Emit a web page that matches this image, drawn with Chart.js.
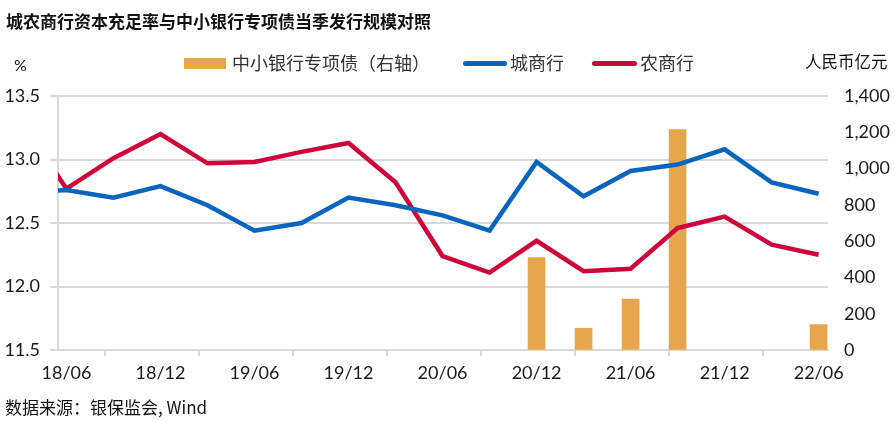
<!DOCTYPE html>
<html>
<head>
<meta charset="utf-8">
<script src="https://cdn.jsdelivr.net/npm/chart.js@4.4.1/dist/chart.umd.min.js"></script>
<style>
  body { margin: 0; background: #fff; }
  #wrap { position: relative; width: 895px; height: 422px; overflow: hidden; font-family: "Noto Sans CJK SC", sans-serif; }
  #chart { position: absolute; left: 0; top: 0; }
  .txt { position: absolute; white-space: nowrap; line-height: 1; }
  #title { left: 6px; top: 12px; font-size: 17px; font-weight: bold; color: #111; }
  .leg { top: 53px; font-size: 18px; color: #333; }
  .swatch { position: absolute; }
  #unitL { left: 14px; top: 57px; font-size: 16px; font-family: Lato, sans-serif; color: #111; }
  #unitR { left: 805px; top: 53px; font-size: 16.5px; color: #111; }
  #source { left: 5px; top: 398px; font-size: 17px; color: #111; }
</style>
</head>
<body>
<div id="wrap">
  <canvas id="chart" width="895" height="422"></canvas>
  <div class="txt" id="title">城农商行资本充足率与中小银行专项债当季发行规模对照</div>
  <div class="txt" id="unitL">%</div>
  <div class="swatch" style="left:184px;top:58px;width:42px;height:11px;background:#e5a64e"></div>
  <div class="txt leg" style="left:232px">中小银行专项债（右轴）</div>
  <div class="swatch" style="left:463px;top:61px;width:44px;height:5px;border-radius:3px;background:#0864bd"></div>
  <div class="txt leg" style="left:510px">城商行</div>
  <div class="swatch" style="left:592px;top:61px;width:45px;height:5px;border-radius:3px;background:#d0043c"></div>
  <div class="txt leg" style="left:640px">农商行</div>
  <div class="txt" id="unitR">人民币亿元</div>
  <div class="txt" id="source">数据来源：银保监会, Wind</div>
</div>
<script>
// quarters from 18/03 (only partly visible at the left edge) to 22/06
const quarters = ['18/03', '18/06', '18/09', '18/12', '19/03', '19/06', '19/09', '19/12', '20/03',
  '20/06', '20/09', '20/12', '21/03', '21/06', '21/09', '21/12', '22/03', '22/06'];
const cityBank = [12.74, 12.76, 12.70, 12.79, 12.64, 12.44, 12.50, 12.70, 12.64,
  12.56, 12.44, 12.98, 12.71, 12.91, 12.96, 13.08, 12.82, 12.73];
const ruralBank = [13.32, 12.77, 13.01, 13.20, 12.97, 12.98, 13.06, 13.13, 12.82,
  12.24, 12.11, 12.36, 12.12, 12.14, 12.46, 12.55, 12.33, 12.25];
const specialBonds = [null, null, null, null, null, null, null, null, null,
  null, null, 510, 120, 280, 1215, null, null, 140];
const xTickLabels = ['18/06', '18/12', '19/06', '19/12', '20/06', '20/12', '21/06', '21/12', '22/06'];

// data sit a little right of the period ticks (quarter-end vs. period start)
const quarterOffset = 0.18;
const toPoints = arr => arr.map((v, i) => ({ x: i - 1 + quarterOffset, y: v }));

const gridColor = '#d9d9d9';
const tickFont = { family: 'Lato, sans-serif', size: 18 };

new Chart(document.getElementById('chart'), {
  type: 'line',
  data: {
    datasets: [
      {
        type: 'bar',
        label: '中小银行专项债（右轴）',
        data: toPoints(specialBonds),
        yAxisID: 'y1',
        backgroundColor: '#e5a64e',
        barThickness: 17,
        order: 2
      },
      {
        label: '城商行',
        data: toPoints(cityBank),
        yAxisID: 'y',
        borderColor: '#0864bd',
        borderWidth: 4.5,
        pointRadius: 0,
        tension: 0,
        clip: 0,
        order: 1
      },
      {
        label: '农商行',
        data: toPoints(ruralBank),
        yAxisID: 'y',
        borderColor: '#d0043c',
        borderWidth: 4.5,
        pointRadius: 0,
        tension: 0,
        clip: 0,
        order: 1
      }
    ]
  },
  options: {
    responsive: false,
    animation: false,
    layout: { padding: { top: 96, left: 0, right: 0, bottom: 0 } },
    plugins: { legend: { display: false }, tooltip: { enabled: false } },
    scales: {
      x: {
        type: 'linear',
        min: 0,
        max: 16.38,
        offset: false,
        afterFit: s => { s.height = 72; },
        grid: { drawOnChartArea: false, drawTicks: true, tickLength: 6, color: gridColor, lineWidth: 2 },
        border: { color: gridColor, width: 2 },
        ticks: {
          stepSize: 2,
          includeBounds: false,
          autoSkip: false,
          maxRotation: 0,
          padding: 6,
          labelOffset: 8.5,
          color: '#1a1a1a',
          font: tickFont,
          callback: v => xTickLabels[v / 2] || ''
        }
      },
      y: {
        position: 'left',
        min: 11.5,
        max: 13.5,
        afterFit: s => { s.width = 58; },
        grid: { color: gridColor, lineWidth: 2, tickLength: 8 },
        border: { color: gridColor, width: 2 },
        ticks: { stepSize: 0.5, padding: 10, color: '#1a1a1a', font: tickFont, callback: v => v.toFixed(1) }
      },
      y1: {
        position: 'right',
        min: 0,
        max: 1400,
        afterFit: s => { s.width = 67; },
        grid: { drawOnChartArea: false, drawTicks: false },
        border: { display: false },
        ticks: { stepSize: 200, padding: 16, color: '#1a1a1a', font: tickFont, callback: v => v.toLocaleString('en-US') }
      }
    }
  }
});
</script>
</body>
</html>
